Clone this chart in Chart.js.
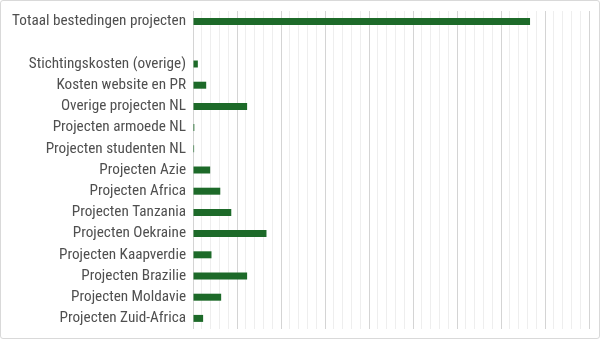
<!DOCTYPE html>
<html>
<head>
<meta charset="utf-8">
<script src="https://cdn.jsdelivr.net/npm/chart.js@4"></script>
<style>
  html, body { margin: 0; padding: 0; background: #ffffff; }
  #wrap { position: relative; width: 598px; height: 337px; border: 1px solid #d9d9d9; border-radius: 3px; }
  canvas { display: block; }
</style>
</head>
<body>
<div id="wrap"><canvas id="c" width="598" height="337"></canvas></div>
<script>
const categories = [
  "Totaal bestedingen projecten",
  "",
  "Stichtingskosten (overige)",
  "Kosten website en PR",
  "Overige projecten NL",
  "Projecten armoede NL",
  "Projecten studenten NL",
  "Projecten Azie",
  "Projecten Africa",
  "Projecten Tanzania",
  "Projecten Oekraine",
  "Projecten Kaapverdie",
  "Projecten Brazilie",
  "Projecten Moldavie",
  "Projecten Zuid-Africa"
];
const amounts = [76600, null, 1100, 3000, 12300, 300, 250, 3900, 6200, 8700, 16700, 4200, 12300, 6400, 2300];
const axisMax = 90000;
const minorStep = 2000;
const majorStep = 10000;

new Chart(document.getElementById('c'), {
  type: 'bar',
  data: {
    labels: categories,
    datasets: [{
      data: amounts,
      backgroundColor: '#1d6a29',
      borderWidth: 0,
      barPercentage: 0.66,
      categoryPercentage: 0.5
    }]
  },
  options: {
    indexAxis: 'y',
    responsive: false,
    animation: false,
    events: [],
    layout: { padding: { top: 10, bottom: 9, right: 10, left: 0 } },
    plugins: { legend: { display: false }, tooltip: { enabled: false } },
    scales: {
      x: {
        min: 0, max: axisMax,
        ticks: { display: false, stepSize: minorStep },
        grid: {
          drawTicks: false,
          lineWidth: 1,
          color: (ctx) => (ctx.tick && ctx.tick.value % majorStep === 0) ? '#d4d4d4' : '#eeeeee'
        },
        border: { display: false },
        afterFit: (s) => { s.height = 0; s.paddingLeft = 0; s.paddingRight = 0; }
      },
      y: {
        ticks: {
          color: '#4f4f4f',
          padding: 7,
          autoSkip: false,
          font: { family: '"Roboto Condensed", "Liberation Sans Narrow", sans-serif', size: 15.2 }
        },
        grid: { display: false, drawTicks: false },
        border: { display: false },
        afterFit: (s) => { s.width = 192; s.paddingTop = 0; s.paddingBottom = 0; }
      }
    }
  }
});
</script>
</body>
</html>
